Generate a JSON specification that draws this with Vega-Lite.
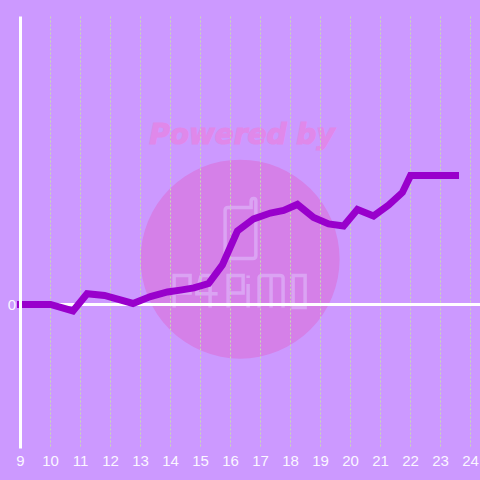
{
  "$schema": "https://vega.github.io/schema/vega-lite/v6.json",
  "width": 459.5,
  "height": 432,
  "autosize": {"type": "none"},
  "padding": {"left": 20.5, "top": 16.5, "right": 0, "bottom": 31.5},
  "background": "#cc99ff",
  "view": {"stroke": null},
  "config": {"axis": {"labelOverlap": false, "labelBound": false, "labelFlush": false}},
  "layer": [
    {
      "data": {"values": [{"hour": 16.32, "level": 31.5}]},
      "mark": {"type": "point", "shape": "circle", "filled": true, "size": 39600, "color": "#d580e8", "opacity": 1},
      "encoding": {
        "x": {"field": "hour", "type": "quantitative", "scale": {"domain": [9, 24.31667], "nice": false, "zero": false}, "axis": {"title": null, "values": [9], "labels": false, "grid": false, "domain": false, "ticks": false}},
        "y": {"field": "level", "type": "quantitative", "scale": {"domain": [-100, 200], "nice": false, "zero": false}, "axis": {"title": null, "values": [0], "format": "d", "grid": false, "domain": true, "domainColor": "#ffffff", "domainWidth": 3, "ticks": false, "labelColor": "#ffffff", "labelFont": "Liberation Sans", "labelFontSize": 15, "labelPadding": 4.5, "labelOpacity": 0.92, "zindex": 1, "translate": 0}}
      }
    },
    {
      "data": {"values": [{"hour": 16.32, "level": 34}]},
      "mark": {"type": "point", "filled": false, "size": 22500, "stroke": "#dba3f3", "strokeWidth": 3.5, "opacity": 1, "shape": "M 0.147 -0.72 L 0.147 -0.64 L -0.16 -0.64 Q -0.2 -0.64 -0.2 -0.6 L -0.2 0 Q -0.2 0.04 -0.16 0.04 L 0.17 0.04 Q 0.21 0.04 0.21 0 L 0.21 -0.73 Q 0.21 -0.76 0.18 -0.76 Q 0.147 -0.76 0.147 -0.72 Z M -0.88 0.693 L -0.88 0.267 L -0.667 0.267 L -0.667 0.5 L -0.88 0.5 M -0.52 0.267 L -0.4 0.267 L -0.4 0.693 M -0.6 0.51 L -0.3 0.51 M -0.52 0.267 L -0.58 0.51 M -0.16 0.693 L -0.16 0.267 L 0.04 0.267 L 0.04 0.5 L -0.16 0.5 M 0.107 0.267 L 0.107 0.3 M 0.107 0.38 L 0.107 0.693 M 0.253 0.693 L 0.253 0.3 Q 0.253 0.267 0.3 0.267 L 0.413 0.267 L 0.413 0.693 M 0.413 0.267 L 0.527 0.267 Q 0.573 0.267 0.573 0.3 L 0.573 0.693 M 0.707 0.267 L 0.867 0.267 L 0.867 0.693 L 0.707 0.693 Z"},
      "encoding": {
        "x": {"field": "hour", "type": "quantitative"},
        "y": {"field": "level", "type": "quantitative"}
      }
    },
    {
      "data": {"values": [{"hour": 16.38, "level": 117, "label": "Powered by"}]},
      "mark": {"type": "text", "font": "DejaVu Sans", "fontWeight": "bold", "fontStyle": "italic", "fontSize": 28, "color": "#e088ea", "stroke": "#e088ea", "strokeWidth": 1.2, "align": "center", "baseline": "middle"},
      "encoding": {
        "x": {"field": "hour", "type": "quantitative"},
        "y": {"field": "level", "type": "quantitative"},
        "text": {"field": "label", "type": "nominal"}
      }
    },
    {
      "data": {"values": [{"hour": 10},{"hour": 11},{"hour": 12},{"hour": 13},{"hour": 14},{"hour": 15},{"hour": 16},{"hour": 17},{"hour": 18},{"hour": 19},{"hour": 20},{"hour": 21},{"hour": 22},{"hour": 23},{"hour": 24}]},
      "mark": {"type": "rule", "stroke": "#c6dcb0", "strokeWidth": 1, "strokeDash": [2, 2]},
      "encoding": {"x": {"field": "hour", "type": "quantitative"}}
    },
    {
      "data": {"values": [{"hour": 9},{"hour": 10},{"hour": 11},{"hour": 12},{"hour": 13},{"hour": 14},{"hour": 15},{"hour": 16},{"hour": 17},{"hour": 18},{"hour": 19},{"hour": 20},{"hour": 21},{"hour": 22},{"hour": 23},{"hour": 24}]},
      "mark": {"type": "text", "font": "Liberation Sans", "fontSize": 15, "color": "#ffffff", "opacity": 0.92, "align": "center", "baseline": "middle"},
      "encoding": {
        "x": {"field": "hour", "type": "quantitative"},
        "y": {"datum": -108.5},
        "text": {"field": "hour", "type": "quantitative", "format": "d"}
      }
    },
    {
      "data": {"values": [{"level": 0}]},
      "mark": {"type": "rule", "stroke": "#ffffff", "strokeWidth": 3},
      "encoding": {"y": {"field": "level", "type": "quantitative"}}
    },
    {
      "data": {"values": [
        {"hour": 9, "level": 0},
        {"hour": 10, "level": 0},
        {"hour": 10.75, "level": -4.5},
        {"hour": 11.22, "level": 7.5},
        {"hour": 11.8, "level": 6.3},
        {"hour": 12.75, "level": 0.7},
        {"hour": 13.33, "level": 5.5},
        {"hour": 13.9, "level": 8.7},
        {"hour": 14.33, "level": 10},
        {"hour": 14.78, "level": 11.5},
        {"hour": 15.27, "level": 14.6},
        {"hour": 15.73, "level": 27.5},
        {"hour": 16.23, "level": 51},
        {"hour": 16.77, "level": 59.5},
        {"hour": 17.33, "level": 63.5},
        {"hour": 17.77, "level": 65.3},
        {"hour": 18.23, "level": 69.5},
        {"hour": 18.77, "level": 60.5},
        {"hour": 19.27, "level": 56},
        {"hour": 19.77, "level": 54.5},
        {"hour": 20.23, "level": 66},
        {"hour": 20.77, "level": 61.5},
        {"hour": 21.27, "level": 69},
        {"hour": 21.73, "level": 77.8},
        {"hour": 22, "level": 89.5},
        {"hour": 23.5, "level": 89.5}
      ]},
      "mark": {"type": "line", "stroke": "#9900cc", "strokeWidth": 7, "strokeCap": "square", "strokeJoin": "miter"},
      "encoding": {
        "x": {"field": "hour", "type": "quantitative"},
        "y": {"field": "level", "type": "quantitative"}
      }
    }
  ]
}
